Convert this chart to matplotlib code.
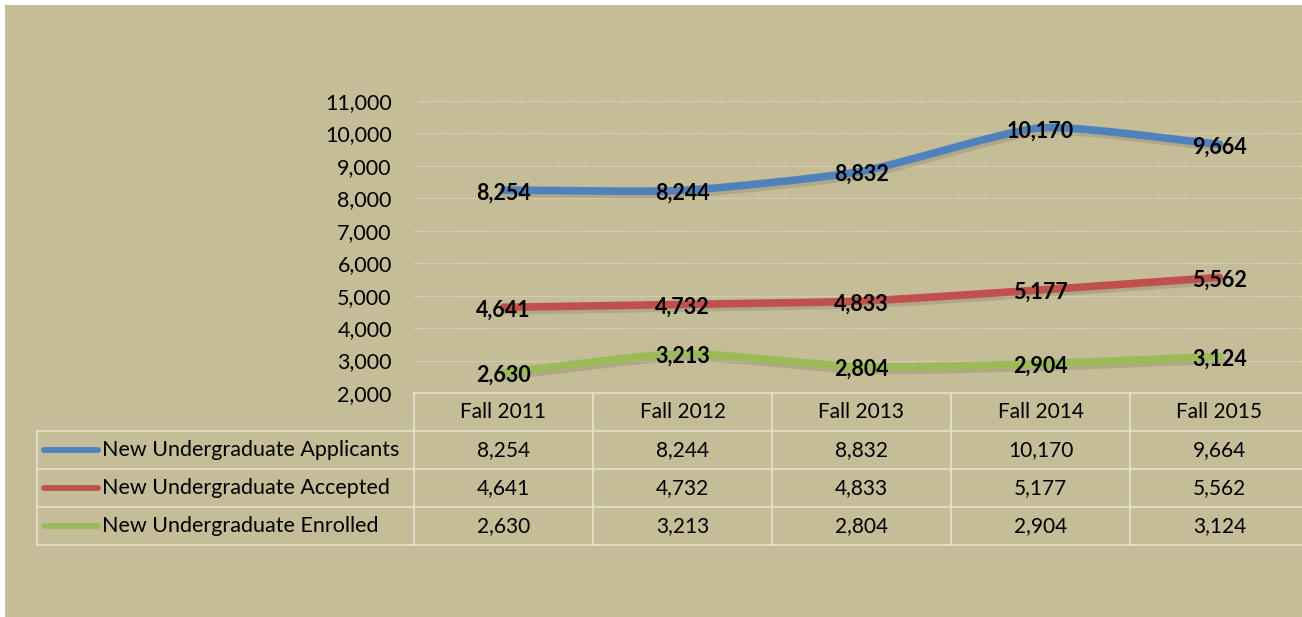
import numpy as np
import matplotlib

matplotlib.use("Agg")
from matplotlib import pyplot as plt
from matplotlib import patheffects as pe
from matplotlib.patches import Rectangle

plt.rcParams["font.family"] = ["Lato", "DejaVu Sans"]

terms = ["Fall 2011", "Fall 2012", "Fall 2013", "Fall 2014", "Fall 2015"]
series_names = [
    "New Undergraduate Applicants",
    "New Undergraduate Accepted",
    "New Undergraduate Enrolled",
]
applicants = [8254, 8244, 8832, 10170, 9664]
accepted = [4641, 4732, 4833, 5177, 5562]
enrolled = [2630, 3213, 2804, 2904, 3124]
series_values = [applicants, accepted, enrolled]
colors = ["#4F81BD", "#C0504D", "#9BBB59"]
yticks = list(range(2000, 12000, 1000))

BG = "#C5BC98"
GRID = "#E6E2CE"
W, H = 1302, 617
FS = 15.5


def smooth(xs, ys, n=40):
    # excel-like smoothed line (catmull-rom through the points)
    xs = np.asarray(xs, float)
    ys = np.asarray(ys, float)
    px = np.concatenate([[2 * xs[0] - xs[1]], xs, [2 * xs[-1] - xs[-2]]])
    py = np.concatenate([[2 * ys[0] - ys[1]], ys, [2 * ys[-1] - ys[-2]]])
    out_x, out_y = [], []
    for i in range(1, len(px) - 2):
        t = np.linspace(0, 1, n)
        for arr, res in ((px, out_x), (py, out_y)):
            p0, p1, p2, p3 = arr[i - 1], arr[i], arr[i + 1], arr[i + 2]
            m1 = (p2 - p0) / 2 * 0.6
            m2 = (p3 - p1) / 2 * 0.6
            h00 = 2 * t**3 - 3 * t**2 + 1
            h10 = t**3 - 2 * t**2 + t
            h01 = -2 * t**3 + 3 * t**2
            h11 = t**3 - t**2
            res.extend(h00 * p1 + h10 * m1 + h01 * p2 + h11 * m2)
    return np.array(out_x), np.array(out_y)


fig = plt.figure(figsize=(W / 100, H / 100), dpi=100, facecolor="white")

# overlay axes in pixel coords for background and table
bg = fig.add_axes([0, 0, 1, 1], zorder=0)
bg.set_xlim(0, W)
bg.set_ylim(H, 0)
bg.axis("off")
bg.add_patch(Rectangle((5, 5), W, H, facecolor=BG, edgecolor="none"))

col_left, col_w = 414, 179
plot_top, plot_bottom = 101, 393
ax = fig.add_axes(
    [col_left / W, 1 - plot_bottom / H, 5 * col_w / W, (plot_bottom - plot_top) / H],
    zorder=2,
)
ax.set_facecolor("none")
ax.set_xlim(-0.5, 4.5)
ax.set_ylim(2000, 11000)
ax.set_yticks(yticks)
ax.set_yticklabels([f"{v:,}" for v in yticks], fontsize=FS)
ax.set_xticks([])
ax.tick_params(axis="y", length=0, pad=16)
for s in ax.spines.values():
    s.set_visible(False)
ax.grid(axis="y", color=GRID, linestyle=(0, (1, 1.5)), linewidth=0.8)
ax.set_axisbelow(True)

x = np.arange(len(terms))
for vals, c in zip(series_values, colors):
    sx, sy = smooth(x, vals)
    ax.plot(
        sx, sy, color=c, linewidth=5.5, solid_capstyle="round", zorder=3,
        path_effects=[
            pe.SimpleLineShadow(offset=(1.5, -2.5), shadow_color="#3a3420", alpha=0.15),
            pe.Normal(),
        ],
    )
    for xi, v in zip(x, vals):
        ax.annotate(
            f"{v:,}", (xi, v), xytext=(0, -2), textcoords="offset points",
            ha="center", va="center", fontsize=FS, fontweight="bold",
            color="black", zorder=4,
        )

# data table
row_h = 38
table_left = 37
table_right = col_left + 5 * col_w
rows_top = [plot_bottom + i * row_h for i in range(4)]
table_bottom = plot_bottom + 4 * row_h
line_kw = dict(color=GRID, linewidth=1.2, zorder=1)

bg.plot([col_left, table_right], [plot_bottom, plot_bottom], **line_kw)
for yy in rows_top[1:] + [table_bottom]:
    bg.plot([table_left, table_right], [yy, yy], **line_kw)
bg.plot([table_left, table_left], [rows_top[1], table_bottom], **line_kw)
for i in range(6):
    xx = col_left + i * col_w
    bg.plot([xx, xx], [plot_bottom, table_bottom], **line_kw)

for i, t in enumerate(terms):
    bg.text(col_left + (i + 0.5) * col_w, plot_bottom + row_h / 2, t,
            ha="center", va="center", fontsize=FS - 0.5)

for r, (name, vals, c) in enumerate(zip(series_names, series_values, colors)):
    yc = rows_top[r + 1] + row_h / 2
    bg.plot([44, 98], [yc, yc], color=c, linewidth=4.2, solid_capstyle="round")
    bg.text(102, yc, name, ha="left", va="center", fontsize=FS)
    for i, v in enumerate(vals):
        bg.text(col_left + (i + 0.5) * col_w, yc, f"{v:,}",
                ha="center", va="center", fontsize=FS - 0.5)

fig.savefig("out.png", dpi=100, facecolor=fig.get_facecolor())
